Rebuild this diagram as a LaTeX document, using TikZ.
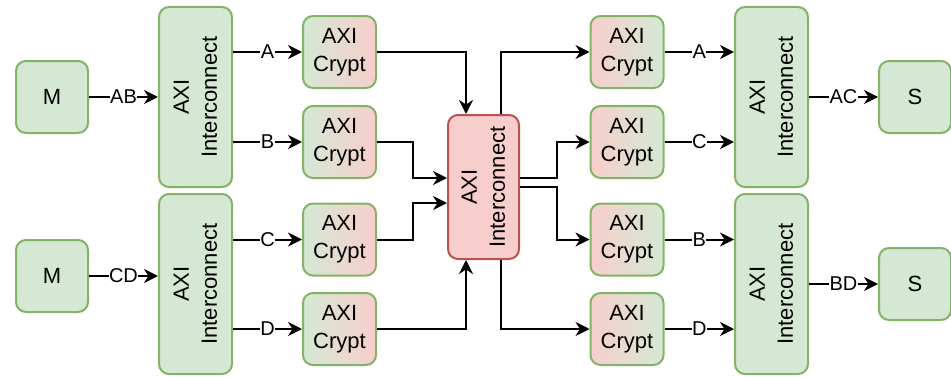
\documentclass[tikz,border=0pt]{standalone}
\usepackage{fontspec}
\setmainfont{Liberation Sans}
\usetikzlibrary{arrows.meta}

\definecolor{grnfill}{HTML}{D5E8D4}
\definecolor{grnline}{HTML}{82B366}
\definecolor{redfill}{HTML}{F8CECC}
\definecolor{redline}{HTML}{B85450}

\newcommand\boxfont{\fontsize{22}{28}\selectfont}
\newcommand\edgefont{\fontsize{20}{22}\selectfont}

\begin{document}
\begin{tikzpicture}[x=1pt, y=1pt,
      blk/.style={rectangle, draw=grnline, fill=grnfill, line width=2pt, rounded corners=10pt, font=\boxfont, align=center},
      endbox/.style={blk, minimum width=72pt, minimum height=72pt},
      icbox/.style={blk, minimum width=73pt, minimum height=180pt, label={[rotate=90, align=center, font=\boxfont]center:{AXI\\Interconnect}}},
      hubbox/.style={blk, draw=redline, fill=redfill, minimum width=71pt, minimum height=144pt, label={[rotate=90, align=center, font=\boxfont]center:{AXI\\Interconnect}}},
      encbox/.style={blk, minimum width=73pt, minimum height=72pt, left color=grnfill, right color=redfill},
      decbox/.style={blk, minimum width=73pt, minimum height=72pt, left color=redfill, right color=grnfill},
      arrow/.style={-{Stealth[length=14pt, width=14pt, inset=4.5pt]}, line width=2pt},
      lbl/.style={fill=white, inner sep=0.5pt, font=\edgefont}
    ]
      \useasboundingbox (0,0) rectangle (951,376);

      % masters and first interconnects
      \node[endbox] (m1) at (52,279) {M};
      \node[endbox] (m2) at (52,100) {M};
      \node[icbox] (ic1) at (195.5,279) {};
      \node[icbox] (ic2) at (195.5,92) {};

      % crypt cores, master side
      \node[encbox] (ca1) at (339.5,324) {AXI\\Crypt};
      \node[encbox] (cb1) at (339.5,234) {AXI\\Crypt};
      \node[encbox] (cc1) at (339.5,136.5) {AXI\\Crypt};
      \node[encbox] (cd1) at (339.5,47) {AXI\\Crypt};

      % central interconnect
      \node[hubbox] (hub) at (483.5,189) {};

      % crypt cores, slave side
      \node[decbox] (ca2) at (627,324) {AXI\\Crypt};
      \node[decbox] (cc2) at (627,234) {AXI\\Crypt};
      \node[decbox] (cb2) at (627,136.5) {AXI\\Crypt};
      \node[decbox] (cd2) at (627,47) {AXI\\Crypt};

      % slave interconnects and slaves
      \node[icbox] (ic3) at (771.5,279) {};
      \node[icbox] (ic4) at (771.5,92) {};
      \node[endbox] (s1) at (915,279) {S};
      \node[endbox] (s2) at (915,92) {S};

      \draw[arrow] (m1.east) -- node[lbl]{AB} (m1.east -| ic1.west);
      \draw[arrow] (m2.east) -- node[lbl]{CD} (m2.east -| ic2.west);

      \draw[arrow] (ic1.east |- ca1.west) -- node[lbl]{A} (ca1.west);
      \draw[arrow] (ic1.east |- cb1.west) -- node[lbl]{B} (cb1.west);
      \draw[arrow] (ic2.east |- cc1.west) -- node[lbl]{C} (cc1.west);
      \draw[arrow] (ic2.east |- cd1.west) -- node[lbl]{D} (cd1.west);

      \draw[arrow] (ca1.east) -| ([xshift=-17.5pt]hub.north);
      \draw[arrow] (cb1.east) -- ++(36,0) |- ([yshift=9pt]hub.west);
      \draw[arrow] (cc1.east) -- ++(36,0) |- ([yshift=-16pt]hub.west);
      \draw[arrow] (cd1.east) -| ([xshift=-17.5pt]hub.south);

      \draw[arrow] ([xshift=17.5pt]hub.north) |- (ca2.west);
      \draw[arrow] ([yshift=9pt]hub.east) -- ++(37,0) |- (cc2.west);
      \draw[arrow] (hub.east) -- ++(37,0) |- (cb2.west);
      \draw[arrow] ([xshift=17.5pt]hub.south) |- (cd2.west);

      \draw[arrow] (ca2.east) -- node[lbl]{A} (ca2.east -| ic3.west);
      \draw[arrow] (cc2.east) -- node[lbl]{C} (cc2.east -| ic3.west);
      \draw[arrow] (cb2.east) -- node[lbl]{B} (cb2.east -| ic4.west);
      \draw[arrow] (cd2.east) -- node[lbl]{D} (cd2.east -| ic4.west);

      \draw[arrow] (ic3.east |- s1.west) -- node[lbl]{AC} (s1.west);
      \draw[arrow] (ic4.east |- s2.west) -- node[lbl]{BD} (s2.west);
    \end{tikzpicture}
\end{document}
